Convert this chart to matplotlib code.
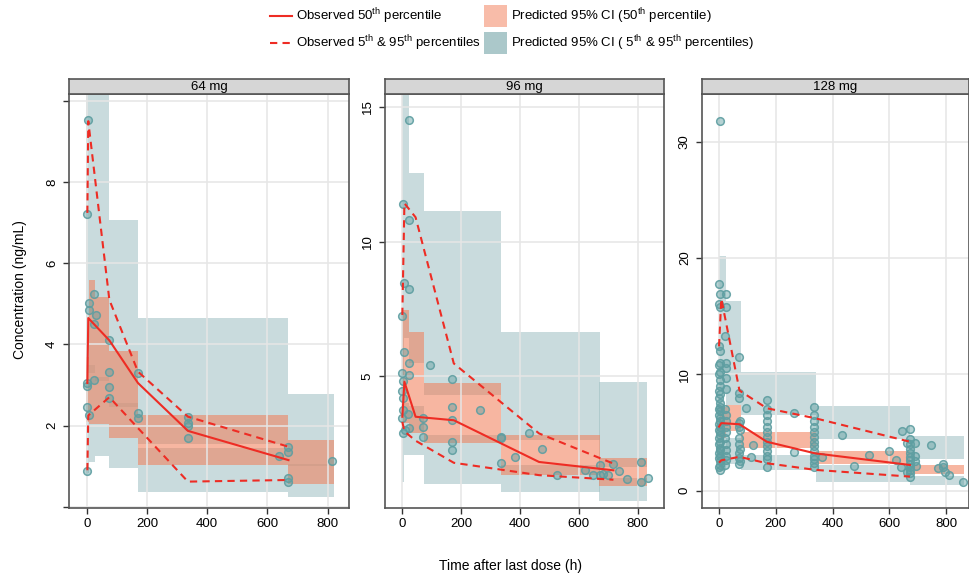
"""VPC-style concentration-time panels by dose."""

import numpy as np
import matplotlib
matplotlib.use("Agg")
import matplotlib.pyplot as plt
from matplotlib.lines import Line2D
from matplotlib.patches import Rectangle

plt.rcParams["font.family"] = ["Liberation Sans", "DejaVu Sans"]
plt.rcParams["mathtext.default"] = "regular"

# ---------------- data ----------------
doses = ["64 mg", "96 mg", "128 mg"]

# 64 mg: observed concentrations
t64 = [5, 2, 6, 6, 25, 30, 24, 74, 2, 2, 25, 74, 74, 74, 2, 6, 2,
       170, 170, 170, 335, 335, 335, 335, 640, 669, 669, 669, 669, 813]
c64 = [9.54, 7.22, 5.02, 4.84, 5.25, 4.73, 4.5, 4.11, 3.05, 2.97, 3.13, 3.33, 2.96, 2.68, 2.47, 2.26, 0.88,
       3.29, 2.3, 2.18, 2.22, 2.07, 2.0, 1.70, 1.25, 1.48, 1.35, 0.70, 0.62, 1.13]
# 64 mg: observed percentiles
pt64 = [2, 5, 75, 170, 336, 670]
p50_64 = [3.05, 4.65, 4.1, 3.05, 1.87, 1.15]
p95_64 = [7.24, 9.5, 5.1, 3.33, 2.22, 1.48]
p05_64 = [0.9, 2.25, 2.7, 1.94, 0.62, 0.66]
# 64 mg: predicted CI boxes per time bin
bs64 = [-1, 6, 26, 75, 170, 668]
be64 = [6, 26, 75, 170, 668, 820]
ci05_lo64 = [0.83, 1.11, 1.24, 0.95, 0.37, 0.23]
ci05_hi64 = [3.5, 3.5, 3.2, 2.55, 1.45, 1.05]
ci50_lo64 = [2.1, 2.05, 2.05, 1.69, 1.03, 0.56]
ci50_hi64 = [3.7, 5.58, 5.16, 3.85, 2.25, 1.65]
ci95_lo64 = [3.3, 3.3, 3.1, 2.45, 1.55, 1.0]
ci95_hi64 = [12, 12, 12, 7.07, 4.65, 2.77]

# 96 mg
t96 = [24, 3, 24, 4, 24, 0, 4, 0, 24, 24, 3, 0, 3, 3, 20, 0, 8, 3, 24, 71, 71, 71, 94,
       168, 168, 168, 168, 168, 264, 336, 336, 336, 383, 432, 474, 525, 621, 648, 672, 672,
       682, 700, 718, 738, 765, 812, 812, 837]
c96 = [14.5, 11.4, 10.8, 8.45, 8.23, 7.24, 5.9, 5.1, 5.47, 5.05, 4.8, 4.45, 4.2, 3.74, 3.6, 3.45, 3.0, 2.87, 3.07,
       3.45, 3.1, 2.75, 5.43, 4.91, 3.86, 3.36, 2.56, 2.25, 3.74, 2.74, 2.7, 1.78, 2.0, 2.9, 2.31, 1.32, 1.5,
       1.32, 1.69, 1.32, 1.35, 1.32, 1.75, 1.47, 1.16, 1.81, 1.07, 1.2]
pt96 = [0, 7, 45, 175, 465, 718]
p50_96 = [3.49, 4.79, 3.49, 3.36, 1.81, 1.5]
p95_96 = [7.27, 11.42, 10.9, 5.47, 2.87, 1.75]
p05_96 = [3.3, 2.95, 2.6, 1.78, 1.32, 1.15]
bs96 = [-1, 5, 22, 72, 334, 670]
be96 = [5, 22, 75, 336, 672, 833]
ci05_lo96 = [1.07, 2.06, 2.06, 1.01, 0.70, 0.35]
ci05_hi96 = [4.0, 4.0, 3.9, 2.8, 1.7, 1.2]
ci50_lo96 = [3.25, 3.25, 2.87, 2.5, 1.32, 0.91]
ci50_hi96 = [7.45, 7.45, 6.65, 4.73, 2.81, 1.96]
ci95_lo96 = [4.3, 6.4, 5.5, 4.3, 2.62, 1.62]
ci95_hi96 = [17, 17, 12.55, 11.12, 6.65, 4.79]

# 128 mg
t128 = ([2]
        + [0, 4, 1, 3, 0, 2, 4, 1, 3, 0, 2, 4, 1, 3, 0, 2, 4, 1, 3, 0,
           2, 4, 1, 3, 0, 2, 4, 1, 3, 0, 2, 4, 1, 3, 0, 2, 4, 1, 3]
        + [24, 26, 22, 25, 23, 24, 26, 22, 25, 23, 24, 26, 22, 25, 23, 24, 26, 22]
        + [72, 72, 70, 74, 72, 70, 74, 72, 70, 74, 72, 70, 74, 72]
        + [95, 121, 113]
        + [168] * 13
        + [265, 265]
        + [336] * 13
        + [364, 432, 475, 529, 599, 624, 640, 643, 660, 660]
        + [672] * 12
        + [690, 690, 690, 695, 745, 770, 790, 790, 795, 810, 860])
c128 = ([31.8]
        + [17.8, 16.9, 16.0, 15.8, 12.4, 12.0, 11.0, 10.8, 10.2, 10.0, 9.5, 9.0, 8.6, 8.3, 8.0, 7.5,
           7.2, 7.0, 6.8, 6.5, 6.2, 6.0, 5.7, 5.5, 5.2, 5.0, 4.8, 4.5, 4.2, 4.0, 3.7, 3.5, 3.2, 3.0,
           2.8, 2.5, 2.2, 2.0, 1.8]
        + [16.9, 15.8, 13.3, 11.0, 10.5, 9.7, 8.7, 7.0, 6.5, 6.0, 5.5, 5.0, 4.5, 4.0, 3.5, 3.0, 2.6, 2.2]
        + [11.5, 8.4, 8.0, 6.0, 5.8, 5.5, 5.2, 4.5, 4.0, 3.6, 3.2, 2.8, 2.5, 2.3]
        + [7.1, 3.9, 2.9]
        + [7.8, 7.0, 6.5, 6.0, 5.5, 5.0, 4.6, 4.2, 3.8, 3.4, 3.0, 2.7, 2.0]
        + [6.7, 3.3]
        + [7.2, 6.5, 6.0, 5.5, 5.0, 4.6, 4.2, 3.8, 3.4, 3.0, 2.7, 2.4, 2.0]
        + [2.9, 4.8, 2.15, 3.1, 3.4, 2.6, 2.0, 5.1, 4.1, 1.6]
        + [5.3, 4.4, 4.0, 3.6, 3.2, 2.9, 2.6, 2.3, 2.0, 1.8, 1.5, 1.2]
        + [4.1, 3.0, 2.5, 2.1, 3.9, 1.9, 2.3, 2.0, 1.6, 1.3, 0.7])
pt128 = [0, 8, 72, 168, 338, 672]
p50_128 = [5.5, 5.8, 5.7, 4.2, 3.2, 2.2]
p95_128 = [12.4, 16.5, 8.6, 7.08, 6.22, 4.2]
p05_128 = [2.4, 2.6, 2.9, 2.35, 1.78, 1.2]
bs128 = [0, 24, 76, 340, 672]
be128 = [24, 76, 340, 672, 862]
ci05_lo128 = [1.7, 2.3, 1.78, 0.77, 0.45]
ci05_hi128 = [3.8, 4.5, 3.07, 2.2, 1.26]
ci50_lo128 = [4.5, 5.1, 3.64, 2.25, 1.4]
ci50_hi128 = [7.2, 7.35, 5.07, 3.4, 2.2]
ci95_lo128 = [8.5, 7.4, 6.51, 4.4, 2.7]
ci95_hi128 = [20.2, 16.3, 10.23, 7.25, 4.67]

xlims = [(-59, 871), (-59, 890), (-60, 880)]
ylims = [(-0.03, 10.17), (0.1, 15.48), (-1.5, 34.1)]
yticks = [[0, 2, 4, 6, 8, 10], [5, 10, 15], [0, 10, 20, 30]]
yticklabels = [["", "2", "4", "6", "8", ""], ["5", "10", "15"], ["0", "10", "20", "30"]]
xticks = [0, 200, 400, 600, 800]

legend_line_labels = [r"Observed 50$^{th}$ percentile", r"Observed 5$^{th}$ & 95$^{th}$ percentiles"]
legend_patch_labels = [r"Predicted 95% CI (50$^{th}$ percentile)",
                       r"Predicted 95% CI ( 5$^{th}$ & 95$^{th}$ percentiles)"]

# ---------------- style ----------------
RED = "#EE2C24"
TEAL = "#9DBFC1"
SALMON = "#F27B55"
FRAME = "#555555"
LW = 1.5
DASH = (0, (3.5, 2.5))

W, H = 970, 577
panel_px = [(69, 349), (385, 664), (702, 969)]
TOP, BOT, STRIP_TOP = 94, 508, 79

data = [
    (t64, c64, pt64, p05_64, p50_64, p95_64, bs64, be64,
     ci05_lo64, ci05_hi64, ci50_lo64, ci50_hi64, ci95_lo64, ci95_hi64),
    (t96, c96, pt96, p05_96, p50_96, p95_96, bs96, be96,
     ci05_lo96, ci05_hi96, ci50_lo96, ci50_hi96, ci95_lo96, ci95_hi96),
    (t128, c128, pt128, p05_128, p50_128, p95_128, bs128, be128,
     ci05_lo128, ci05_hi128, ci50_lo128, ci50_hi128, ci95_lo128, ci95_hi128),
]


def boxes(ax, start, end, lo, hi, color, alpha):
    start = np.asarray(start, float)
    width = np.asarray(end, float) - start
    lo = np.asarray(lo, float)
    ax.bar(start, np.asarray(hi, float) - lo, width=width, bottom=lo, align="edge",
           color=color, alpha=alpha, linewidth=0, zorder=1)


fig = plt.figure(figsize=(W / 100, H / 100), dpi=100)

for i, (name, d) in enumerate(zip(doses, data)):
    (t, c, pt, p05, p50, p95, bs, be, l05, h05, l50, h50, l95, h95) = d
    left, right = panel_px[i]
    ax = fig.add_axes([left / W, 1 - BOT / H, (right - left) / W, (BOT - TOP) / H])

    boxes(ax, bs, be, l05, h05, TEAL, 0.55)
    boxes(ax, bs, be, l95, h95, TEAL, 0.55)
    boxes(ax, bs, be, l50, h50, SALMON, 0.55)

    ax.plot(t, c, "o", ms=5.5, mfc=(0.37, 0.62, 0.63, 0.45), mec=(0.37, 0.62, 0.63, 0.9),
            mew=1.1, zorder=3, clip_on=False)
    ax.plot(pt, p50, color=RED, lw=LW, zorder=4)
    ax.plot(pt, p95, color=RED, lw=LW, ls=DASH, zorder=4)
    ax.plot(pt, p05, color=RED, lw=LW, ls=DASH, zorder=4)

    ax.set_xlim(*xlims[i])
    ax.set_ylim(*ylims[i])
    ax.set_xticks(xticks)
    ax.set_yticks(yticks[i])
    ax.set_yticklabels(yticklabels[i])
    ax.grid(True, color="#E6E6E6", lw=1.1)
    ax.set_axisbelow("line")
    for s in ax.spines.values():
        s.set_color(FRAME)
        s.set_linewidth(1.2)
    ax.tick_params(direction="out", length=4, width=1, colors="#333333", labelsize=9.5,
                   labelcolor="black")
    ax.tick_params(axis="y", labelrotation=90, pad=4)
    ax.tick_params(axis="x", pad=3)
    for lab in ax.get_yticklabels():
        lab.set_va("center")

    # strip with dose label
    sax = fig.add_axes([left / W, 1 - TOP / H, (right - left) / W, (TOP - STRIP_TOP) / H])
    sax.set_facecolor("#D6D6D6")
    sax.set_xticks([])
    sax.set_yticks([])
    for s in sax.spines.values():
        s.set_color(FRAME)
        s.set_linewidth(1.2)
    sax.text(0.5, 0.45, name, ha="center", va="center", fontsize=9.5, transform=sax.transAxes)

fig.text(20 / W, 1 - 290 / H, "Concentration (ng/mL)", rotation=90, ha="center", va="center", fontsize=10)
fig.text(511 / W, 1 - 566 / H, "Time after last dose (h)", ha="center", va="center", fontsize=10)

# legend drawn in figure pixels
line_styles = ["-", DASH]
rows_y = [16, 43]
for y, ls, lab in zip(rows_y, line_styles, legend_line_labels):
    fig.add_artist(Line2D([270 / W, 292 / W], [1 - y / H, 1 - y / H], color=RED, lw=LW, ls=ls,
                          transform=fig.transFigure))
    fig.text(296 / W, 1 - y / H, lab, ha="left", va="center", fontsize=9.5)
patch_colors = [SALMON, TEAL]
patch_alpha = [0.5, 0.85]
for y, col, a, lab in zip(rows_y, patch_colors, patch_alpha, legend_patch_labels):
    fig.add_artist(Rectangle((484 / W, 1 - (y + 11) / H), 23 / W, 22 / H, facecolor=col, alpha=a,
                             lw=0, transform=fig.transFigure))
    fig.text(511 / W, 1 - y / H, lab, ha="left", va="center", fontsize=9.5)

fig.savefig("out.png", dpi=100)
